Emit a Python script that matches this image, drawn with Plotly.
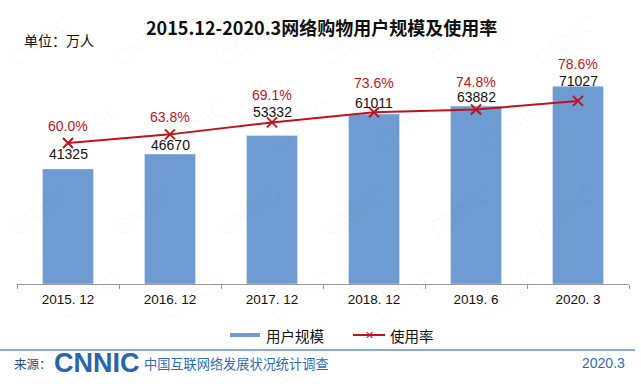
import plotly.graph_objects as go

categories = ["2015. 12", "2016. 12", "2017. 12", "2018. 12", "2019. 6", "2020. 3"]
users = [41325, 46670, 53332, 61011, 63882, 71027]
rate = [60.0, 63.8, 69.1, 73.6, 74.8, 78.6]
bar_label_shift = [15, 9, 23, 11, 9, 5]
rate_label_shift = [17, 17, 27, 29, 28, 37]

BLUE = "#6f9bd3"
RED = "#c0141c"
NUM_FONT = "Liberation Sans, Arial, sans-serif"
CJK_FONT = "Noto Sans CJK SC, sans-serif"

L, R, T, B = 17, 12, 60, 100
W, H = 641, 384
PW, PH = W - L - R, H - T - B


def px(xp, yp):
    return (xp - L) / PW, (H - B - yp) / PH


def note(xp, yp, text, font, xanchor="center"):
    x, y = px(xp, yp)
    return dict(x=x, y=y, xref="paper", yref="paper", showarrow=False,
                xanchor=xanchor, yanchor="middle", text=text, font=font)


fig = go.Figure()
fig.add_trace(go.Bar(x=categories, y=users, marker_color=BLUE, width=0.5,
                     name="用户规模", showlegend=False))
fig.add_trace(go.Scatter(x=categories, y=rate, yaxis="y2", mode="lines+markers",
                         line=dict(color=RED, width=2),
                         marker=dict(symbol="x-thin", size=10, line=dict(color=RED, width=2)),
                         name="使用率", showlegend=False))

annotations = []
# watermark (faint)
for row in range(4):
    for col in range(6):
        xw = col * 105 + (row % 2) * 50 + 40
        if xw > 600:
            continue
        a = note(xw, row * 85 + 40, "CNNIC",
                 dict(family=NUM_FONT, size=22, color="rgba(0,0,0,0.028)"))
        a["textangle"] = -35
        annotations.append(a)

for c, v, s in zip(categories, users, bar_label_shift):
    annotations.append(dict(x=c, y=v, xref="x", yref="y", text=str(v), showarrow=False,
                            xanchor="center", yanchor="middle",
                            yshift=s, font=dict(family=NUM_FONT, size=14, color="#111")))
for c, v, s in zip(categories, rate, rate_label_shift):
    annotations.append(dict(x=c, y=v, xref="x", yref="y2", text=f"{v:.1f}%", showarrow=False,
                            xanchor="center", yanchor="middle",
                            yshift=s, font=dict(family=NUM_FONT, size=14, color=RED)))

annotations += [
    note(321, 27, "<b>2015.12-2020.3网络购物用户规模及使用率</b>",
         dict(family=CJK_FONT, size=18, color="#111")),
    note(22, 40, "单位：万人", dict(family=CJK_FONT, size=14, color="#111"), "left"),
    note(264, 335, "用户规模", dict(family=CJK_FONT, size=14.5, color="#111"), "left"),
    note(388, 335, "使用率", dict(family=CJK_FONT, size=14.5, color="#111"), "left"),
    note(369, 335, "✕", dict(family="DejaVu Sans", size=11, color=RED)),
    note(12, 363, "来源：", dict(family=CJK_FONT, size=12.5, color="#2b4a7a"), "left"),
    note(52, 363, "<b>CNNIC</b>", dict(family=NUM_FONT, size=27, color="#2a64ae"), "left"),
    note(142, 363, "中国互联网络发展状况统计调查",
         dict(family=CJK_FONT, size=13.2, color="#2f6bbd"), "left"),
    note(627, 363, "2020.3", dict(family=NUM_FONT, size=14, color="#2f6bbd"), "right"),
]

x0, y0 = px(230, 335)
x1, _ = px(260, 335)
x2, _ = px(353, 335)
x3, _ = px(385, 335)
xa, yl = px(0, 350)
xb, _ = px(635, 350)
shapes = [
    dict(type="line", xref="paper", yref="paper", x0=x0, x1=x1, y0=y0, y1=y0,
         line=dict(color=BLUE, width=4)),
    dict(type="line", xref="paper", yref="paper", x0=x2, x1=x3, y0=y0, y1=y0,
         line=dict(color=RED, width=2)),
    dict(type="line", xref="paper", yref="paper", x0=xa, x1=xb, y0=yl, y1=yl,
         line=dict(color="#5b8fd0", width=1.5)),
]

fig.update_layout(
    width=W, height=H,
    margin=dict(l=L, r=R, t=T, b=B),
    plot_bgcolor="white", paper_bgcolor="white",
    showlegend=False,
    xaxis=dict(type="category", showline=True, linecolor="#999", linewidth=1,
               ticks="outside", tickson="boundaries", ticklen=4, tickcolor="#999",
               ticklabelstandoff=3,
               tickfont=dict(family=NUM_FONT, size=13.5, color="#111"),
               showgrid=False, zeroline=False),
    yaxis=dict(range=[0, 80416], visible=False, showgrid=False, zeroline=False),
    yaxis2=dict(range=[-2.4, 96.7], overlaying="y", visible=False, showgrid=False, zeroline=False),
    annotations=annotations,
    shapes=shapes,
)

fig.write_html("out.html", config={"displayModeBar": False},
               post_script="document.body.style.margin='0';")
